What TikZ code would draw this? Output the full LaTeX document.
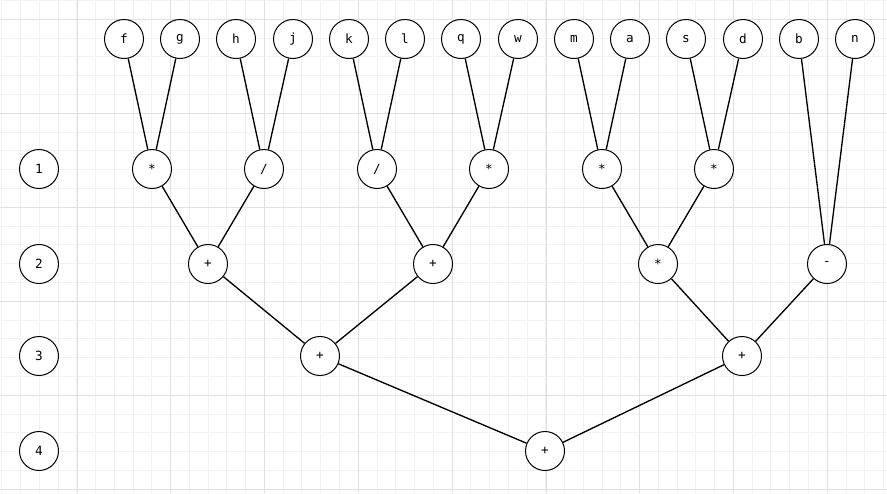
\documentclass[tikz,border=0pt]{standalone}
\usepackage{fontspec}
\setmonofont{DejaVu Sans Mono}
\definecolor{gridminor}{RGB}{242,242,242}
\definecolor{gridmajor}{RGB}{224,224,224}
\usetikzlibrary{positioning}

\begin{document}
\begin{tikzpicture}[x=0.75pt,y=-0.75pt,
    op/.style={circle, draw, line width=0.75pt, fill=white, minimum size=29.25pt,
      inner sep=0pt, font=\ttfamily\fontsize{9.5}{11}\selectfont},
    edge/.style={line width=1pt}]

    % background grid
    \useasboundingbox (0,0) rectangle (887,493);
    \fill[white] (0,0) rectangle (887,493);
    \foreach \i in {0,...,47}
      \draw[gridminor, line width=0.75pt] (1.8+18.76*\i,0) -- (1.8+18.76*\i,493);
    \foreach \i in {0,...,26}
      \draw[gridminor, line width=0.75pt] (0,0.5+18.8*\i) -- (887,0.5+18.8*\i);
    \foreach \i in {0,...,8}
      \draw[gridmajor, line width=0.75pt] (77+93.8*\i,0) -- (77+93.8*\i,493);
    \foreach \i in {0,...,5}
      \draw[gridmajor, line width=0.75pt] (0,19.3+94*\i) -- (887,19.3+94*\i);

    % level numbers
    \node[op] (r1) at (39,169) {1};
    \node[op] (r2) at (39,264) {2};
    \node[op] (r3) at (39,356) {3};
    \node[op] (r4) at (39,451) {4};

    % operands
    \foreach \n/\x in {f/124,g/180,h/236,j/293,k/349,l/405,q/461,w/518,
                       m/574,a/630,s/686,d/743,b/799,n/855}
      \node[op] (\n) at (\x,39) {\n};

    % operators
    \node[op] (mul1) at (152,169) {*};
    \node[op] (div1) at (264,169) {/};
    \node[op] (div2) at (377,169) {/};
    \node[op] (mul2) at (489,169) {*};
    \node[op] (mul3) at (602,169) {*};
    \node[op] (mul4) at (714,169) {*};

    \node[op] (add1) at (208,264) {+};
    \node[op] (add2) at (433,264) {+};
    \node[op] (mul5) at (658,264) {*};
    \node[op] (sub1) at (827,264) {-};

    \node[op] (add3) at (320,356) {+};
    \node[op] (add4) at (742,356) {+};

    \node[op] (add5) at (545,451) {+};

    % edges
    \draw[edge] (f) -- (mul1);
    \draw[edge] (g) -- (mul1);
    \draw[edge] (h) -- (div1);
    \draw[edge] (j) -- (div1);
    \draw[edge] (k) -- (div2);
    \draw[edge] (l) -- (div2);
    \draw[edge] (q) -- (mul2);
    \draw[edge] (w) -- (mul2);
    \draw[edge] (m) -- (mul3);
    \draw[edge] (a) -- (mul3);
    \draw[edge] (s) -- (mul4);
    \draw[edge] (d) -- (mul4);
    \draw[edge] (b) -- (sub1);
    \draw[edge] (n) -- (sub1);

    \draw[edge] (mul1) -- (add1);
    \draw[edge] (div1) -- (add1);
    \draw[edge] (div2) -- (add2);
    \draw[edge] (mul2) -- (add2);
    \draw[edge] (mul3) -- (mul5);
    \draw[edge] (mul4) -- (mul5);

    \draw[edge] (add1) -- (add3);
    \draw[edge] (add2) -- (add3);
    \draw[edge] (mul5) -- (add4);
    \draw[edge] (sub1) -- (add4);

    \draw[edge] (add3) -- (add5);
    \draw[edge] (add4) -- (add5);
\end{tikzpicture}
\end{document}
